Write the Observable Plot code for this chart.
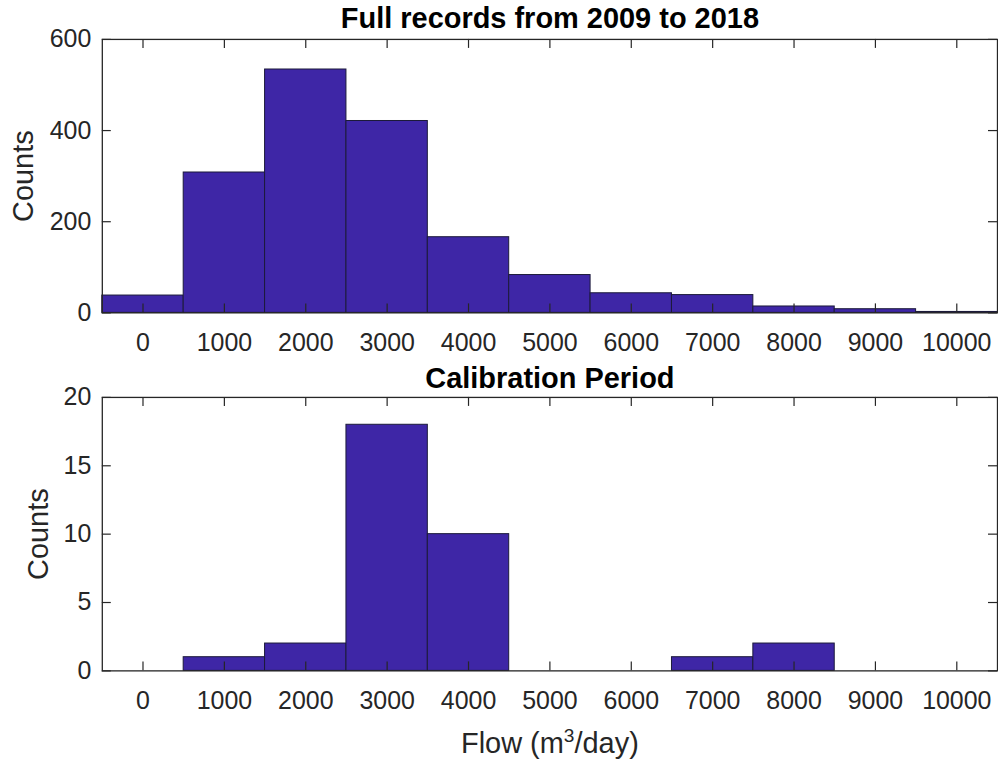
<!DOCTYPE html>
<html>
<head>
<meta charset="utf-8">
<script src="https://cdn.jsdelivr.net/npm/d3@7"></script>
<script src="https://cdn.jsdelivr.net/npm/@observablehq/plot@0.6"></script>
<style>
  html, body { margin: 0; padding: 0; background: #fff; overflow: hidden; }
  #chart { position: relative; width: 998px; height: 764px; overflow: hidden;
           font-family: "Liberation Sans", Arial, Helvetica, sans-serif; }
  #chart svg { position: absolute; left: 0; overflow: visible; }
</style>
</head>
<body>
<div id="chart"></div>
<script>
// Histogram bins: centres of 1000 m³/day wide bins
const binCenters = [0, 1000, 2000, 3000, 4000, 5000, 6000, 7000, 8000, 9000, 10000];
const binWidth = 1000;

// Counts per bin, full daily record 2009–2018
const fullCounts = [38, 308, 534, 421, 166, 83, 43, 39, 14, 8, 2];
// Counts per bin, calibration period
const calibCounts = [0, 1, 2, 18, 10, 0, 0, 1, 2, 0, 0];

// Tick labels
const xTicks = [0, 1000, 2000, 3000, 4000, 5000, 6000, 7000, 8000, 9000, 10000];
const fullYTicks = [0, 200, 400, 600];
const calibYTicks = [0, 5, 10, 15, 20];

const titles = ["Full records from 2009 to 2018", "Calibration Period"];
const yLabel = "Counts";
const xLabelParts = ["Flow (m", "3", "/day)"];
const xLabel = xLabelParts.join("");

const ink = "#262626";
const barFill = "#3e26a6";
const barStroke = "#1c1a3a";

const W = 1000, ML = 102, MR = 1;

function histPanel({counts, yTicks, title, top, height, marginTop, marginBottom, labelDx, titleDy, withXLabel}) {
  const rows = binCenters
    .map((c, i) => ({x1: c - binWidth / 2, x2: c + binWidth / 2, count: counts[i]}))
    .filter(d => d.count > 0);
  const frameH = height - marginTop - marginBottom;
  const frameW = W - ML - MR;
  const marks = [
    Plot.rectY(rows, {x1: "x1", x2: "x2", y: "count", fill: barFill, stroke: barStroke, strokeWidth: 1}),
    Plot.axisX(xTicks, {tickSize: 0, tickPadding: 20, fontSize: 25, label: null, tickFormat: d => String(d)}),
    Plot.axisY(yTicks, {tickSize: 0, tickPadding: 11, fontSize: 25, label: null, tickFormat: d => String(d)}),
    // inward ticks on all four sides
    Plot.ruleX(xTicks, {insetTop: frameH - 9, stroke: ink, strokeWidth: 1.2}),
    Plot.ruleX(xTicks, {insetBottom: frameH - 9, stroke: ink, strokeWidth: 1.2}),
    Plot.ruleY(yTicks, {insetRight: frameW - 9, stroke: ink, strokeWidth: 1.2}),
    Plot.ruleY(yTicks, {insetLeft: frameW - 9, stroke: ink, strokeWidth: 1.2}),
    Plot.frame({stroke: ink, strokeWidth: 1.3}),
    Plot.text([title], {text: d => d, frameAnchor: "top", dy: titleDy, lineAnchor: "bottom",
                        fontSize: 29, fontWeight: "bold", fill: "#000"}),
    Plot.text([yLabel], {text: d => d, frameAnchor: "left", rotate: -90, dx: labelDx,
                         textAnchor: "middle", lineAnchor: "middle", fontSize: 29, fill: ink})
  ];
  if (withXLabel) {
    marks.push(Plot.text([xLabel], {text: d => d, frameAnchor: "bottom", dy: 82, lineAnchor: "bottom",
                                    fontSize: 29, fill: ink, className: "flow-label"}));
  }
  const svg = Plot.plot({
    width: W,
    height,
    marginLeft: ML,
    marginRight: MR,
    marginTop,
    marginBottom,
    style: {color: ink, fontFamily: '"Liberation Sans", Arial, Helvetica, sans-serif', background: "transparent"},
    x: {domain: [-500, 10500]},
    y: {domain: [yTicks[0], yTicks[yTicks.length - 1]]},
    marks
  });
  svg.style.top = top + "px";
  return svg;
}

const chart = document.getElementById("chart");
chart.append(histPanel({
  counts: fullCounts, yTicks: fullYTicks, title: titles[0],
  top: 0, height: 360, marginTop: 39, marginBottom: 47, labelDx: -79, titleDy: -11, withXLabel: false
}));
const lower = histPanel({
  counts: calibCounts, yTicks: calibYTicks, title: titles[1],
  top: 360, height: 404, marginTop: 37, marginBottom: 93, labelDx: -64, titleDy: -9, withXLabel: true
});
chart.append(lower);

// Set the unit's exponent as a raised, smaller superscript
d3.select(lower).selectAll("g.flow-label text").each(function () {
  const t = d3.select(this);
  t.text(null);
  t.append("tspan").text(xLabelParts[0]);
  t.append("tspan").attr("dy", "-0.55em").attr("font-size", "0.66em").text(xLabelParts[1]);
  t.append("tspan").attr("dy", "0.363em").text(xLabelParts[2]);
});
</script>
</body>
</html>
